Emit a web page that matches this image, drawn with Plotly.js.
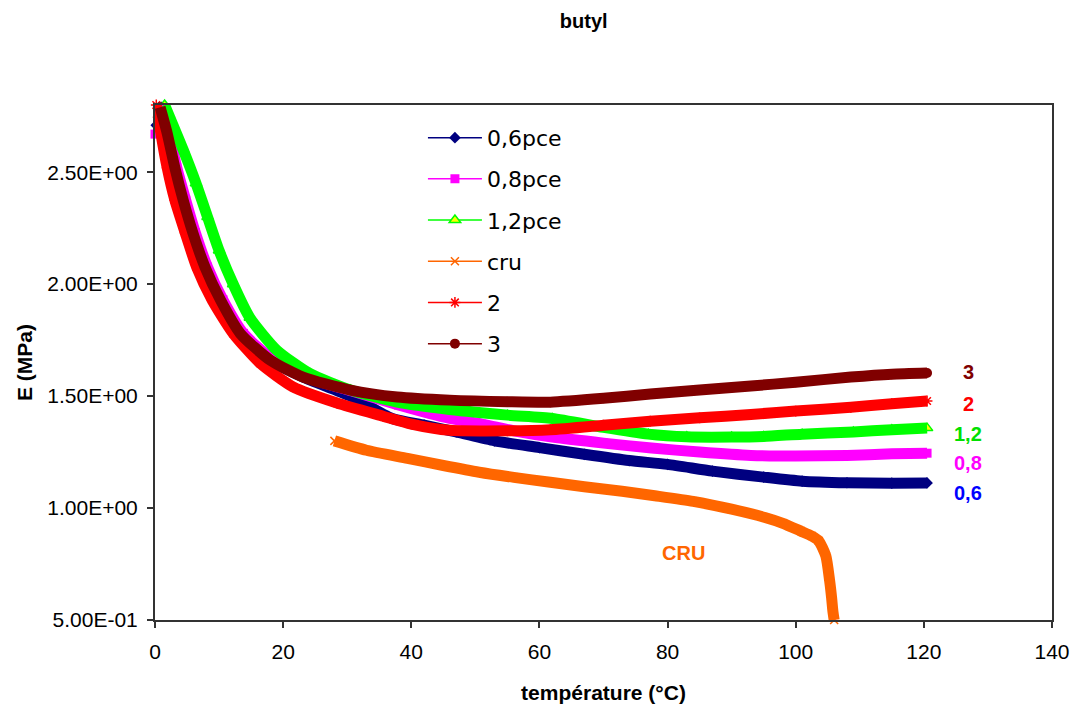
<!DOCTYPE html>
<html>
<head>
<meta charset="utf-8">
<script src="https://cdn.plot.ly/plotly-3.0.1.min.js"></script>
<style>html,body{margin:0;padding:0;background:#fff;}#chart{width:1071px;height:710px;}</style>
</head>
<body>
<div id="chart"></div>
<script>
// ---- data ----
const seriesNames = ['0,6pce', '0,8pce', '1,2pce', 'cru', '2', '3'];

const x06 = [0.2, 1.0, 1.9, 3.1, 4.4, 5.9, 7.8, 10.2, 13.3, 18, 23.1, 30.5, 37, 42, 47, 53, 60, 67, 74, 80, 87, 95, 101, 108, 115, 120.5];
const y06 = [2.71, 2.79, 2.674, 2.52, 2.375, 2.23, 2.076, 1.93, 1.78, 1.66, 1.585, 1.50, 1.40, 1.37, 1.34, 1.30, 1.27, 1.24, 1.212, 1.195, 1.165, 1.138, 1.12, 1.113, 1.111, 1.112];

const x08 = [0, 1.2, 2.2, 3.4, 4.8, 6.3, 8.2, 10.6, 13.8, 18.5, 23.6, 31, 38, 46, 51, 56, 62, 70, 77.5, 85, 93, 100, 108, 115, 120.5];
const y08 = [2.67, 2.79, 2.674, 2.52, 2.375, 2.23, 2.076, 1.93, 1.78, 1.66, 1.585, 1.52, 1.46, 1.40, 1.375, 1.345, 1.317, 1.29, 1.268, 1.25, 1.235, 1.232, 1.235, 1.242, 1.245];

const x12 = [1.5, 2.3, 4.4, 6.4, 8.2, 10.0, 12.2, 14.8, 19.0, 24.2, 30.5, 37.8, 46, 55, 62, 70, 77, 83, 90, 95, 101, 109, 115, 120.5];
const y12 = [2.80, 2.745, 2.60, 2.45, 2.30, 2.15, 2.00, 1.85, 1.705, 1.60, 1.527, 1.473, 1.44, 1.415, 1.40, 1.36, 1.33, 1.318, 1.317, 1.32, 1.33, 1.34, 1.35, 1.357];

const xCru = [28, 33, 39.4, 45, 50.6, 56, 61.7, 67, 72.9, 78, 84, 90, 95.2, 98, 100.8, 102.5, 103.6, 104.7, 105.3, 105.6, 105.8, 106];
const yCru = [1.30, 1.258, 1.222, 1.19, 1.16, 1.137, 1.115, 1.095, 1.075, 1.055, 1.03, 0.995, 0.958, 0.932, 0.897, 0.875, 0.853, 0.786, 0.674, 0.6, 0.54, 0.5];

const x2 = [0.2, 0.5, 1.9, 3.1, 4.7, 6.5, 8.9, 12.2, 16.4, 21.6, 28.4, 35.6, 40, 46, 55, 61.7, 70, 77.3, 85, 93, 100, 108.6, 115, 120.5];
const y2 = [2.80, 2.745, 2.52, 2.375, 2.23, 2.076, 1.93, 1.78, 1.647, 1.54, 1.469, 1.41, 1.375, 1.347, 1.345, 1.35, 1.37, 1.388, 1.403, 1.418, 1.433, 1.45, 1.466, 1.478];

const x3 = [0.8, 1.9, 3.1, 4.4, 5.9, 7.8, 10.2, 13.3, 18.0, 23.1, 30.5, 37.8, 46, 55, 61.7, 70, 77.3, 85, 93, 100, 108.6, 115, 120.5];
const y3 = [2.79, 2.674, 2.52, 2.375, 2.23, 2.076, 1.93, 1.78, 1.66, 1.585, 1.527, 1.496, 1.482, 1.475, 1.473, 1.49, 1.509, 1.527, 1.545, 1.562, 1.585, 1.598, 1.603];

const xTickVals = [0, 20, 40, 60, 80, 100, 120, 140];
const yTickVals = [0.5, 1.0, 1.5, 2.0, 2.5];
const yTickText = ['5.00E-01', '1.00E+00', '1.50E+00', '2.00E+00', '2.50E+00'];

const endLabels = ['3', '2', '1,2', '0,8', '0,6', 'CRU'];
const endLabelX = [127, 127, 126.9, 126.9, 126.9, 82.5];
const endLabelY = [1.607, 1.464, 1.332, 1.203, 1.065, 0.80];

// ---- styles ----
const colors = ['#000080', '#FF00FF', '#00FF00', '#FF6600', '#FF0000', '#800000'];
const labelColors = ['#800000', '#FF0000', '#00E000', '#FF00FF', '#0000FF', '#FF6600'];
const markers = [
  {symbol: 'diamond', size: 9, color: '#000080'},
  {symbol: 'square', size: 9, color: '#FF00FF'},
  {symbol: 'triangle-up', size: 10, color: '#FFFF00', line: {color: '#00FF00', width: 1.5}},
  {symbol: 'x-thin-open', size: 8, color: '#FF6600', line: {color: '#FF6600', width: 1.5}},
  {symbol: 'asterisk-open', size: 9, color: '#FF0000', line: {color: '#FF0000', width: 1.5}},
  {symbol: 'circle', size: 10, color: '#800000'}
];
const xs = [x06, x08, x12, xCru, x2, x3];
const ys = [y06, y08, y12, yCru, y2, y3];

const traces = [];
// thin legend traces (mostly hidden beneath the thick bands)
for (let i = 0; i < 6; i++) {
  traces.push({
    x: xs[i], y: ys[i], name: seriesNames[i], type: 'scatter', mode: 'lines+markers',
    legendgroup: 'g' + i, showlegend: true,
    line: {color: colors[i], width: 1.5},
    marker: markers[i],
    cliponaxis: false, hoverinfo: 'skip'
  });
}
// thick bands (dense markers in the reference)
for (let i = 0; i < 6; i++) {
  traces.push({
    x: xs[i], y: ys[i], name: seriesNames[i] + ' ', type: 'scatter', mode: 'lines',
    showlegend: false,
    line: {color: colors[i], width: 11, shape: 'spline', smoothing: 0.6},
    cliponaxis: false
  });
}
const annotations = endLabels.map((t, i) => ({
  x: endLabelX[i], y: endLabelY[i], xref: 'x', yref: 'y', text: '<b>' + t + '</b>',
  showarrow: false, font: {family: 'Liberation Sans, Arial, sans-serif', size: 20, color: labelColors[i]},
  xanchor: 'center', yanchor: 'middle'
}));

const axisFont = {family: 'Liberation Sans, Arial, sans-serif', size: 21, color: '#000'};
const layout = {
  width: 1071, height: 710,
  margin: {l: 155, r: 19, t: 105, b: 90, pad: 0},
  paper_bgcolor: '#fff', plot_bgcolor: '#fff',
  title: {text: '<b>butyl</b>', font: {family: 'Liberation Sans, Arial, sans-serif', size: 20, color: '#000'},
          x: 0.545, xref: 'container', xanchor: 'center', y: 0.970, yref: 'container', yanchor: 'middle'},
  xaxis: {
    range: [0, 140], tickvals: xTickVals, ticks: 'outside', ticklen: 6, tickwidth: 2, tickcolor: '#333',
    showline: true, linecolor: '#333', linewidth: 2, mirror: true, showgrid: false, zeroline: false,
    tickfont: axisFont, automargin: false, ticklabelstandoff: 6,
    title: {text: '<b>température (°C)</b>', font: {family: 'Liberation Sans, Arial, sans-serif', size: 21, color: '#000'}, standoff: 23}
  },
  yaxis: {
    range: [0.5, 2.8], tickvals: yTickVals, ticktext: yTickText, ticks: 'outside', ticklen: 6, tickwidth: 2, tickcolor: '#333',
    showline: true, linecolor: '#333', linewidth: 2, mirror: true, showgrid: false, zeroline: false,
    tickfont: axisFont, automargin: false, ticklabelstandoff: 5,
    title: {text: '<b>E (MPa)</b>', font: {family: 'Liberation Sans, Arial, sans-serif', size: 21, color: '#000'}, standoff: 9}
  },
  legend: {
    x: 0.2987, y: 0.977, xanchor: 'left', yanchor: 'top', bgcolor: 'rgba(0,0,0,0)',
    font: {family: 'DejaVu Sans, sans-serif', size: 22, color: '#000'},
    traceorder: 'grouped', tracegroupgap: 9.6, itemwidth: 54
  },
  annotations: annotations,
  showlegend: true
};

Plotly.newPlot('chart', traces, layout, {displayModeBar: false, staticPlot: true});
</script>
</body>
</html>
